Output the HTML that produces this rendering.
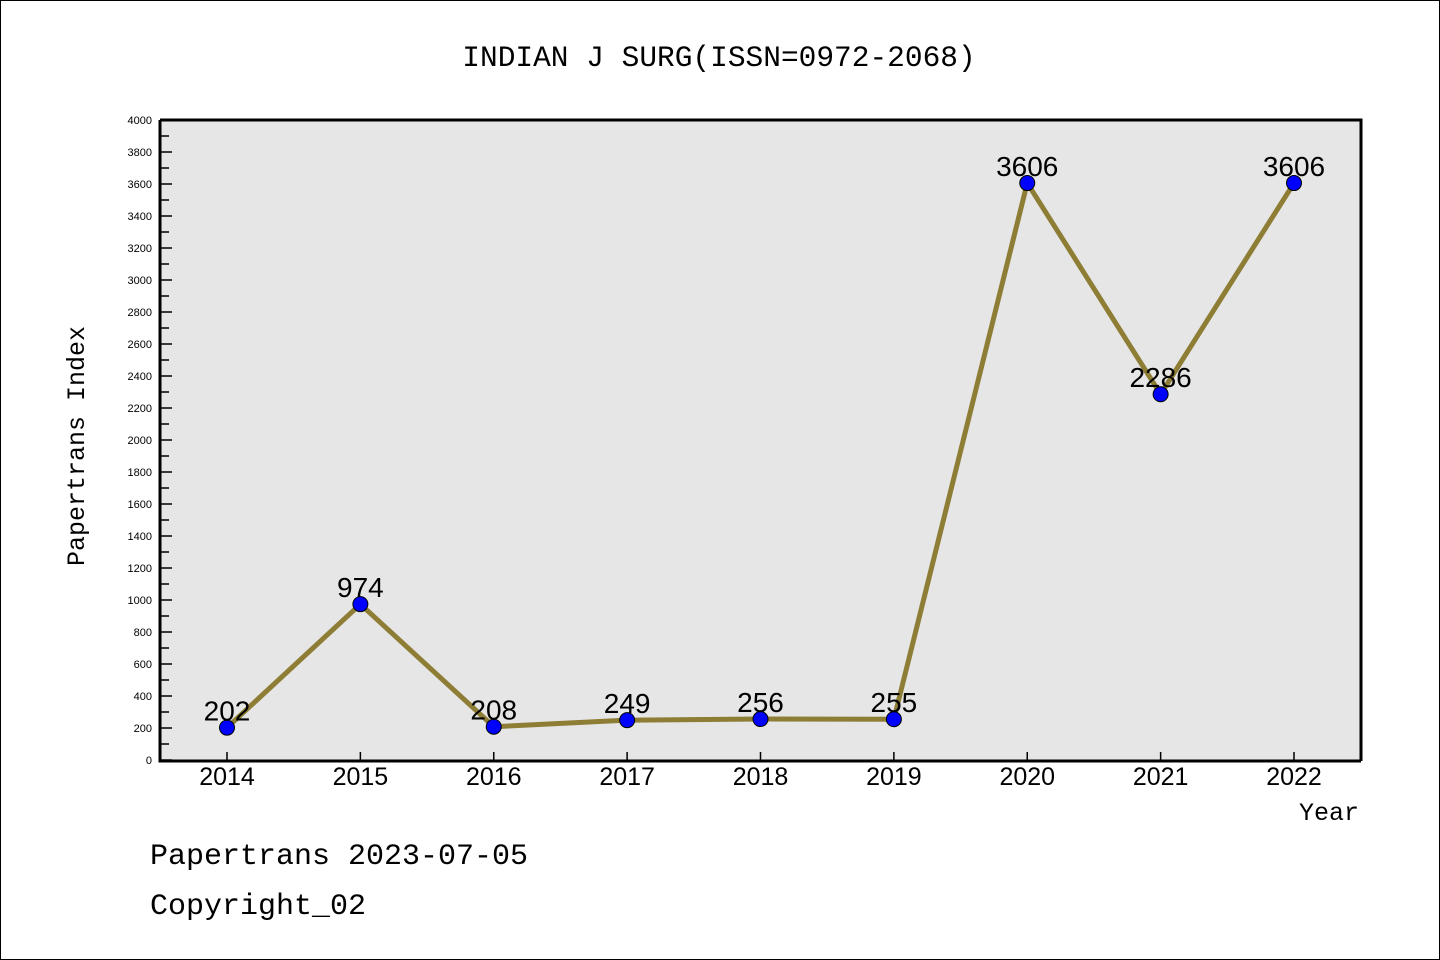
<!DOCTYPE html>
<html><head><meta charset="utf-8"><style>
html,body{margin:0;padding:0;background:#fff}
svg{display:block}
text{font-family:"Liberation Sans","DejaVu Sans",sans-serif}
text.mono{font-family:"Liberation Mono","DejaVu Sans Mono",monospace}
</style></head><body>
<svg id="chart" width="1440" height="960" xmlns="http://www.w3.org/2000/svg">
<rect x="0.5" y="0.5" width="1439" height="959" fill="#fff" stroke="#000"/>
<text class="mono" x="719" y="66" text-anchor="middle" font-size="29.5">INDIAN J SURG(ISSN=0972-2068)</text>
<rect x="160" y="120" width="1201" height="641" fill="#e6e6e6"/>
<g id="axes"></g>
<g id="marks"></g>
<text class="mono" x="84" y="446" transform="rotate(-90 84 446)" text-anchor="middle" font-size="25">Papertrans Index</text>
<text class="mono" x="1359" y="820" text-anchor="end" font-size="25">Year</text>
<text class="mono" x="150" y="864" font-size="30">Papertrans 2023-07-05</text>
<text class="mono" x="150" y="914" font-size="30">Copyright_02</text>
</svg>
<script>
const categories=["2014","2015","2016","2017","2018","2019","2020","2021","2022"];
const values=[202,974,208,249,256,255,3606,2286,3606];
const yTicks=[0,200,400,600,800,1000,1200,1400,1600,1800,2000,2200,2400,2600,2800,3000,3200,3400,3600,3800,4000];
const NS="http://www.w3.org/2000/svg";
function x(i){return 227+i*(1294-227)/(categories.length-1);}
function y(v){return 760-v*640/4000;}
function mk(tag,attrs,parent,txt){const e=document.createElementNS(NS,tag);for(const k in attrs)e.setAttribute(k,attrs[k]);if(txt!==undefined)e.textContent=txt;parent.appendChild(e);return e;}
const axes=document.getElementById('axes'),marks=document.getElementById('marks');
yTicks.forEach((t,i)=>{
  const l=mk('line',{x1:160,x2:172,y1:y(t),y2:y(t),stroke:'#000','stroke-width':1.5},axes);
  
  
  if(i<yTicks.length-1){const m=mk('line',{x1:160,x2:169,y1:y(t+100),y2:y(t+100),stroke:'#000','stroke-width':1.5},axes);
  
  }
  const tx=mk('text',{x:152,y:y(t)+4,'text-anchor':'end','font-size':11},axes,String(t));
  
  
});
categories.forEach((c,i)=>{
  const l=mk('line',{x1:x(i),x2:x(i),y1:760,y2:752,stroke:'#000','stroke-width':1.5},axes);
  
  
  const tx=mk('text',{x:x(i),y:785,'text-anchor':'middle','font-size':25},axes,c);
  
  
});
const border=mk('path',{d:'M160 120 H1361 V761 M160 120 V761 H1361',fill:'none',stroke:'#000','stroke-width':3},axes);


const pts=values.map((v,i)=>x(i)+','+y(v)).join(' ');
const line=mk('polyline',{points:pts,fill:'none',stroke:'#8e7d35','stroke-width':5,'stroke-linejoin':'round'},marks);


values.forEach((v,i)=>{
  const c=mk('circle',{cx:x(i),cy:y(v),r:7.5,fill:'#0000ff',stroke:'#000','stroke-width':1},marks);
  
  
  const t=mk('text',{x:x(i),y:y(v)-7,'text-anchor':'middle','font-size':28},marks,String(v));
  
  
});
</script>
</body></html>
